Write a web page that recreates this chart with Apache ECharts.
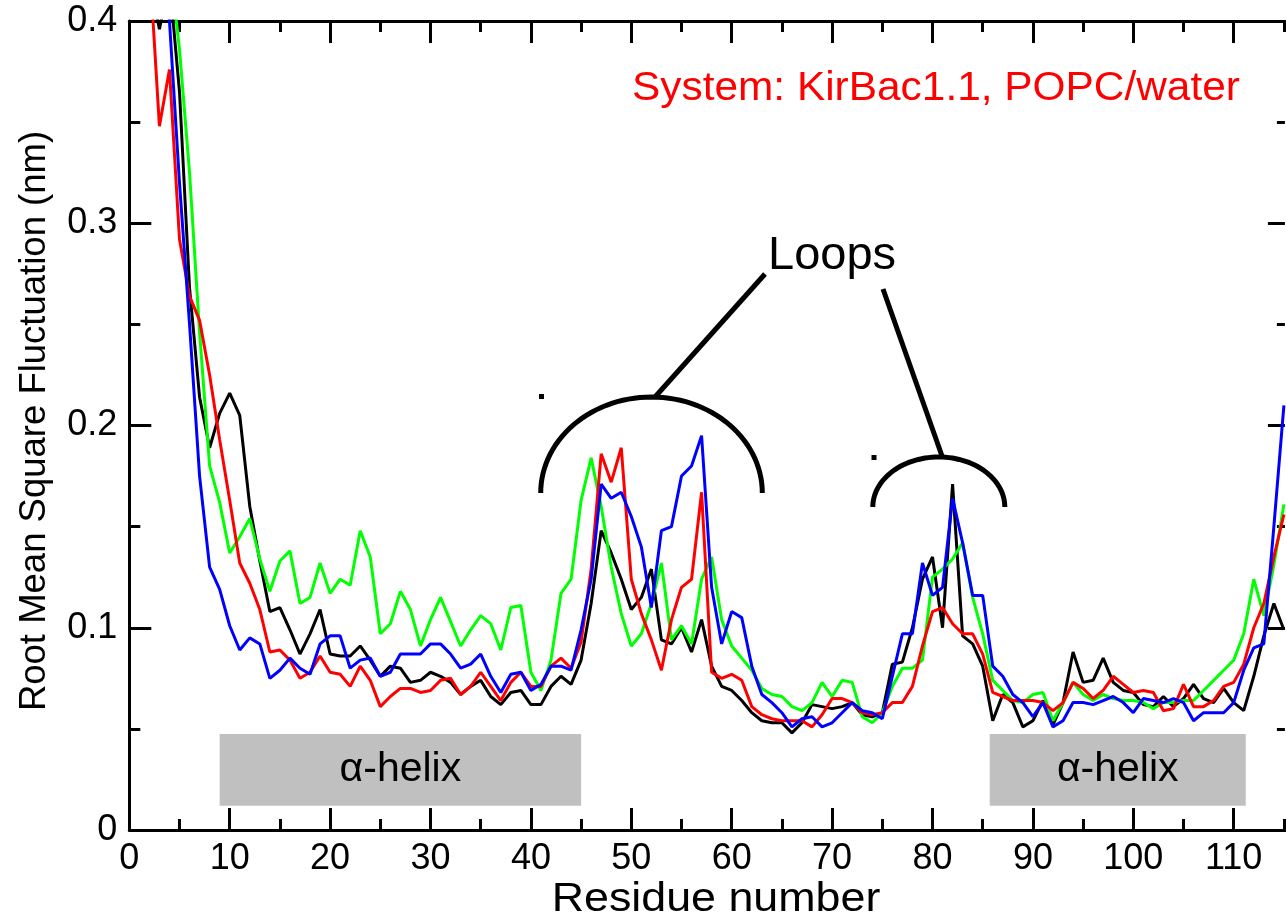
<!DOCTYPE html>
<html>
<head>
<meta charset="utf-8">
<script src="https://cdn.jsdelivr.net/npm/echarts@6/dist/echarts.min.js"></script>
<style>
html,body{margin:0;padding:0;background:#fff;}
#chart{width:1286px;height:921px;}
</style>
</head>
<body>
<div id="chart"></div>
<script>
// Residue numbers (x)
const residues = [1,2,3,4,5,6,7,8,9,10,11,12,13,14,15,16,17,18,19,20,
21,22,23,24,25,26,27,28,29,30,31,32,33,34,35,36,37,38,39,40,
41,42,43,44,45,46,47,48,49,50,51,52,53,54,55,56,57,58,59,60,
61,62,63,64,65,66,67,68,69,70,71,72,73,74,75,76,77,78,79,80,
81,82,83,84,85,86,87,88,89,90,91,92,93,94,95,96,97,98,99,100,
101,102,103,104,105,106,107,108,109,110,111,112,113,114,115];

// RMSF (nm)
const rmsfBlack = [0.45,0.42,0.396,0.42,0.365,0.268,0.214,0.189,0.206,0.216,
0.205,0.160,0.133,0.108,0.110,0.099,0.087,0.097,0.109,0.087,
0.086,0.086,0.091,0.084,0.076,0.081,0.080,0.073,0.074,0.078,
0.076,0.073,0.067,0.071,0.074,0.066,0.062,0.068,0.069,0.062,
0.062,0.071,0.076,0.072,0.084,0.112,0.148,0.137,0.124,0.109,
0.115,0.129,0.094,0.092,0.100,0.088,0.104,0.081,0.071,0.069,
0.064,0.058,0.054,0.053,0.053,0.048,0.053,0.062,0.061,0.060,
0.061,0.063,0.057,0.056,0.058,0.082,0.083,0.100,0.124,0.135,
0.100,0.171,0.096,0.092,0.081,0.054,0.067,0.063,0.051,0.054,
0.064,0.052,0.063,0.088,0.073,0.074,0.085,0.073,0.069,0.068,
0.062,0.061,0.066,0.061,0.065,0.072,0.065,0.063,0.070,0.063,
0.059,0.076,0.096,0.112,0.099];

const rmsfRed = [0.46,0.43,0.348,0.376,0.292,0.264,0.252,0.225,0.193,0.163,
0.132,0.122,0.109,0.088,0.089,0.084,0.075,0.078,0.086,0.078,
0.077,0.071,0.081,0.074,0.061,0.066,0.070,0.070,0.068,0.069,
0.074,0.075,0.067,0.071,0.078,0.071,0.064,0.073,0.078,0.071,
0.071,0.081,0.085,0.080,0.093,0.129,0.186,0.172,0.189,0.124,
0.107,0.094,0.079,0.104,0.120,0.124,0.167,0.078,0.075,0.077,
0.074,0.061,0.057,0.055,0.054,0.054,0.054,0.051,0.057,0.065,
0.065,0.063,0.058,0.057,0.058,0.063,0.063,0.071,0.091,0.108,
0.110,0.102,0.097,0.097,0.087,0.068,0.066,0.064,0.064,0.064,
0.063,0.059,0.063,0.073,0.070,0.065,0.069,0.076,0.072,0.068,
0.069,0.068,0.059,0.060,0.072,0.061,0.061,0.064,0.071,0.073,
0.082,0.100,0.112,0.135,0.156];

const rmsfGreen = [0.48,0.46,0.45,0.43,0.386,0.325,0.246,0.180,0.162,0.137,
0.145,0.154,0.134,0.118,0.133,0.138,0.112,0.115,0.132,0.117,
0.124,0.121,0.148,0.135,0.097,0.102,0.118,0.109,0.091,0.104,
0.115,0.103,0.091,0.099,0.106,0.102,0.089,0.110,0.111,0.078,
0.069,0.084,0.117,0.124,0.163,0.184,0.160,0.130,0.107,0.091,
0.097,0.112,0.132,0.094,0.101,0.092,0.124,0.135,0.104,0.091,
0.085,0.079,0.070,0.067,0.066,0.061,0.059,0.063,0.073,0.066,
0.074,0.073,0.056,0.053,0.058,0.071,0.080,0.080,0.084,0.125,
0.129,0.134,0.142,0.115,0.097,0.074,0.069,0.064,0.063,0.067,
0.068,0.054,0.063,0.073,0.067,0.064,0.067,0.065,0.064,0.064,
0.063,0.060,0.063,0.063,0.064,0.064,0.069,0.074,0.079,0.084,
0.097,0.124,0.106,0.131,0.161];

const rmsfBlue = [0.50,0.47,0.44,0.40,0.32,0.25,0.175,0.130,0.119,0.101,
0.089,0.095,0.092,0.075,0.079,0.085,0.080,0.077,0.092,0.096,
0.096,0.080,0.084,0.085,0.076,0.078,0.087,0.087,0.087,0.092,
0.092,0.087,0.080,0.082,0.087,0.076,0.068,0.077,0.078,0.069,
0.072,0.081,0.081,0.079,0.099,0.124,0.171,0.164,0.167,0.155,
0.140,0.110,0.148,0.150,0.175,0.180,0.195,0.120,0.092,0.108,
0.105,0.081,0.067,0.063,0.058,0.051,0.055,0.056,0.051,0.053,
0.058,0.063,0.059,0.058,0.055,0.076,0.097,0.097,0.132,0.116,
0.120,0.164,0.142,0.116,0.116,0.081,0.076,0.067,0.063,0.056,
0.063,0.051,0.054,0.063,0.063,0.062,0.064,0.066,0.063,0.058,
0.065,0.064,0.063,0.065,0.063,0.054,0.058,0.058,0.058,0.063,
0.079,0.090,0.092,0.150,0.210];

// Axis ticks / tick labels
const xMajorTicks = [0,10,20,30,40,50,60,70,80,90,100,110];
const xMinorTicks = [5,15,25,35,45,55,65,75,85,95,105,115];
const yTicks = [0, 0.1, 0.2, 0.3, 0.4];

// Annotated secondary-structure regions (residue ranges)
const helixRanges = [[9, 45], [85.7, 111.2]];
const helixBand = [0.012, 0.0475];
const helixLabel = 'α-helix';

const FONT = "'Liberation Sans', Arial, Helvetica, sans-serif";
const chart = echarts.init(document.getElementById('chart'), null, {renderer: 'canvas'});

const XMAX = 115.1;
const axisLineStyle = {color: '#000', width: 3};

function xAxisDef(pos, ticks, len, labels, showLine) {
  return {
    type: 'value', position: pos, min: 0, max: XMAX, interval: 5,
    axisLine: {show: showLine, onZero: false, lineStyle: axisLineStyle},
    axisTick: {show: true, inside: true, length: len, customValues: ticks, lineStyle: {color: '#000', width: 3}},
    axisLabel: labels ? {show: true, fontSize: 36, color: '#000', fontFamily: FONT, margin: 11, customValues: ticks} : {show: false},
    splitLine: {show: false}
  };
}
function yAxisDef(pos, labels, showLine, major, minor) {
  return {
    type: 'value', position: pos, min: yTicks[0], max: yTicks[yTicks.length - 1], interval: yTicks[1] - yTicks[0],
    axisLine: {show: showLine, onZero: false, lineStyle: axisLineStyle},
    axisTick: {show: true, inside: true, length: major, lineStyle: {color: '#000', width: 3}},
    minorTick: {show: true, splitNumber: 2, length: minor, lineStyle: {color: '#000', width: 3}},
    axisLabel: labels ? {show: true, fontSize: 36, color: '#000', fontFamily: FONT, margin: 12} : {show: false},
    splitLine: {show: false},
    minorSplitLine: {show: false}
  };
}

const toPairs = arr => residues.map((r, i) => [r, arr[i]]);

function lineSeries(name, color, data, extra) {
  return Object.assign({
    name: name, type: 'line', data: toPairs(data), xAxisIndex: 0, yAxisIndex: 0,
    showSymbol: false, symbol: 'none', clip: true, animation: false,
    lineStyle: {color: color, width: 3}, itemStyle: {color: color}
  }, extra || {});
}

// Half-ellipse bracket outline (annotation shape, in pixels)
function bracket(cx, cy, rx, ry) {
  const pts = [];
  for (let k = 0; k <= 60; k++) {
    const t = Math.PI - Math.PI * k / 60;
    pts.push([cx + rx * Math.cos(t), cy - ry * Math.sin(t)]);
  }
  return pts;
}

const textStyle = (text, fill, size, align) => ({
  text: text, fill: fill, fontSize: size, fontFamily: FONT,
  align: align, verticalAlign: 'middle', textAlign: align, textVerticalAlign: 'middle'
});

const option = {
  animation: false,
  backgroundColor: '#fff',
  grid: {left: 129.3, top: 21, width: XMAX * 10.04, height: 809, containLabel: false},
  xAxis: [
    xAxisDef('bottom', xMajorTicks, 22, true, true),
    xAxisDef('bottom', xMinorTicks, 11, false, false),
    xAxisDef('top', xMajorTicks, 22, false, true),
    xAxisDef('top', xMinorTicks, 11, false, false)
  ],
  yAxis: [yAxisDef('left', true, true, 22, 11), yAxisDef('right', false, false, 17, 8)],
  series: [
    lineSeries('black', '#000000', rmsfBlack, {
      markArea: {
        silent: true,
        itemStyle: {color: '#c0c0c0'},
        label: {show: true, position: 'inside', color: '#000', fontSize: 41, fontFamily: FONT},
        data: helixRanges.map(rg => [
          {name: helixLabel, xAxis: rg[0], yAxis: helixBand[0]},
          {xAxis: rg[1], yAxis: helixBand[1]}
        ])
      }
    }),
    lineSeries('green', '#00ff00', rmsfGreen),
    lineSeries('red', '#ff0000', rmsfRed),
    lineSeries('blue', '#0000ff', rmsfBlue)
  ],
  graphic: [
    {type: 'text', x: 716, y: 900, z: 100, scaleX: 1.12,
     style: textStyle('Residue number', '#000', 40, 'center')},
    {type: 'text', x: 35, y: 421, rotation: Math.PI / 2, z: 100,
     style: textStyle('Root Mean Square Fluctuation (nm)', '#000', 36.5, 'center')},
    {type: 'text', x: 632, y: 89, z: 100, scaleX: 1.06,
     style: textStyle('System: KirBac1.1, POPC/water', '#ff0000', 40, 'left')},
    {type: 'text', x: 768, y: 256, z: 100,
     style: textStyle('Loops', '#000', 47, 'left')},
    {type: 'polyline', z: 100, shape: {points: bracket(651.5, 493, 110.8, 96)},
     style: {fill: null, stroke: '#000', lineWidth: 5}},
    {type: 'polyline', z: 100, shape: {points: bracket(938.8, 507, 66, 50)},
     style: {fill: null, stroke: '#000', lineWidth: 5}},
    {type: 'line', z: 100, shape: {x1: 655, y1: 397, x2: 765, y2: 274}, style: {stroke: '#000', lineWidth: 5}},
    {type: 'line', z: 100, shape: {x1: 883, y1: 289, x2: 942, y2: 456}, style: {stroke: '#000', lineWidth: 5}},
    {type: 'rect', z: 100, shape: {x: 539, y: 394, width: 5, height: 5}, style: {fill: '#000'}},
    {type: 'rect', z: 100, shape: {x: 871.5, y: 455, width: 5, height: 5}, style: {fill: '#000'}}
  ]
};
chart.setOption(option);
</script>
</body>
</html>
